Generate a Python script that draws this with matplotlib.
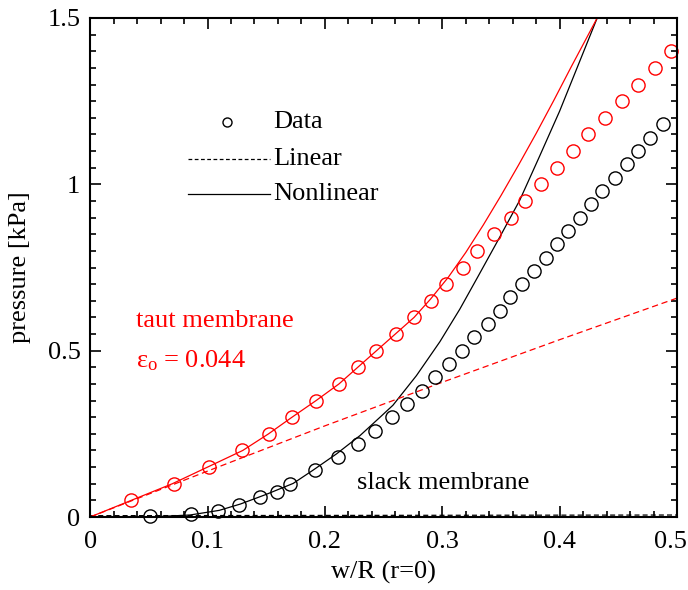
import numpy as np
import matplotlib
matplotlib.use("Agg")
import matplotlib.pyplot as plt
from matplotlib.ticker import MultipleLocator, FuncFormatter

plt.rcParams['font.family'] = ['Liberation Serif', 'DejaVu Serif']
plt.rcParams['mathtext.fontset'] = 'custom'
plt.rcParams['mathtext.rm'] = 'Liberation Serif'
plt.rcParams['mathtext.it'] = 'Liberation Serif'

# slack membrane data (black circles)
slack_x = [0.051, 0.086, 0.109, 0.127, 0.145, 0.159, 0.170, 0.192, 0.2115, 0.228,
           0.243, 0.257, 0.270, 0.2825, 0.294, 0.306, 0.317, 0.327, 0.339, 0.349,
           0.358, 0.368, 0.378, 0.388, 0.3975, 0.407, 0.417, 0.427, 0.436, 0.447,
           0.457, 0.467, 0.477, 0.488]
slack_p = [0.003, 0.009, 0.018, 0.036, 0.06, 0.075, 0.10, 0.14, 0.18, 0.22,
           0.26, 0.30, 0.34, 0.38, 0.42, 0.46, 0.50, 0.54, 0.58, 0.62,
           0.66, 0.70, 0.74, 0.78, 0.82, 0.86, 0.90, 0.94, 0.98, 1.02,
           1.06, 1.10, 1.14, 1.18]

# taut membrane data (red circles)
taut_x = [0.035, 0.0716, 0.101, 0.129, 0.152, 0.172, 0.1925, 0.212, 0.228, 0.2436,
          0.2606, 0.276, 0.290, 0.303, 0.318, 0.330, 0.344, 0.359, 0.3705, 0.384,
          0.398, 0.411, 0.424, 0.4387, 0.453, 0.4668, 0.481, 0.4949]
taut_p = [0.05, 0.10, 0.15, 0.20, 0.25, 0.30, 0.35, 0.40, 0.45, 0.50,
          0.55, 0.60, 0.65, 0.70, 0.75, 0.80, 0.85, 0.90, 0.95, 1.00,
          1.05, 1.10, 1.15, 1.20, 1.25, 1.30, 1.35, 1.40]

# model curves
taut_nl_x = [0, 0.035, 0.07, 0.1, 0.13, 0.152, 0.172, 0.1925, 0.212, 0.228, 0.244,
             0.26, 0.276, 0.29, 0.305, 0.32, 0.335, 0.35, 0.365, 0.38, 0.395, 0.41, 0.432]
taut_nl_p = [0, 0.05, 0.10, 0.15, 0.20, 0.25, 0.30, 0.35, 0.40, 0.45, 0.50,
             0.55, 0.60, 0.655, 0.72, 0.795, 0.878, 0.966, 1.058, 1.153, 1.252, 1.354, 1.5]

taut_lin_x = [0, 0.1, 0.2, 0.3, 0.4, 0.5]
taut_lin_p = [0, 0.138, 0.274, 0.405, 0.533, 0.658]

slack_nl_x = [0, 0.05, 0.085, 0.11, 0.128, 0.15, 0.173, 0.19, 0.21, 0.23, 0.247,
              0.258, 0.278, 0.298, 0.315, 0.33, 0.348, 0.366, 0.383, 0.40, 0.416, 0.432]
slack_nl_p = [0, 0.0, 0.006, 0.02, 0.039, 0.068, 0.101, 0.141, 0.19, 0.245, 0.3,
              0.336, 0.425, 0.527, 0.625, 0.72, 0.835, 0.952, 1.085, 1.22, 1.36, 1.5]

slack_lin_x = [0, 0.5]
slack_lin_p = [0.004, 0.006]

xticks = [0, 0.1, 0.2, 0.3, 0.4, 0.5]
xtick_labels = ['0', '0.1', '0.2', '0.3', '0.4', '']

fig = plt.figure(figsize=(6.88, 5.90), dpi=100)
ax = fig.add_axes([0.131, 0.1237, 0.853, 0.8458])

ax.plot(slack_lin_x, slack_lin_p, color='black', lw=0.9, dashes=(4, 2.5))
ax.plot(slack_nl_x, slack_nl_p, color='black', lw=0.9)
ax.plot(taut_lin_x, taut_lin_p, color='red', lw=0.9, dashes=(5, 3))
ax.plot(taut_nl_x, taut_nl_p, color='red', lw=0.9)
ax.plot(slack_x, slack_p, 'o', mfc='none', mec='black', ms=9.5, mew=1.0, clip_on=False)
ax.plot(taut_x, taut_p, 'o', mfc='none', mec='red', ms=9.5, mew=1.0, clip_on=False)

ax.set_xlim(0, 0.5)
ax.set_ylim(0, 1.5)

fmt = FuncFormatter(lambda v, p: ('%g' % round(v, 3)))
ax.set_xticks(xticks)
ax.set_xticklabels(xtick_labels)
ax.xaxis.set_minor_locator(MultipleLocator(0.02))
ax.yaxis.set_major_locator(MultipleLocator(0.5))
ax.yaxis.set_minor_locator(MultipleLocator(0.05))
ax.yaxis.set_major_formatter(fmt)
ax.tick_params(which='both', direction='in', top=True, right=True, labelsize=19, width=1.2)
ax.tick_params(which='major', length=8)
ax.tick_params(axis='x', which='major', pad=10)
ax.tick_params(axis='y', which='major', pad=7)
ax.tick_params(which='minor', length=4)
for s in ax.spines.values():
    s.set_linewidth(1.5)

# last x tick label, pulled a little left so it stays inside the figure
ax.annotate('0.5', xy=(0.5, 0), xycoords=('data', 'axes fraction'),
            xytext=(-5, -10), textcoords='offset points',
            ha='center', va='top', fontsize=19)

ax.set_xlabel('w/R (r=0)', fontsize=19, labelpad=6)
ax.set_ylabel('pressure [kPa]', fontsize=19, labelpad=12)

# legend drawn by hand as in the original
ax.plot([0.117], [1.188], 'o', mfc='none', mec='black', ms=6.5, mew=1.0)
ax.text(0.156, 1.188, 'Data', fontsize=19, va='center')
ax.plot([0.083, 0.153], [1.076, 1.076], color='black', lw=0.9, dashes=(3, 2))
ax.text(0.156, 1.076, 'Linear', fontsize=19, va='center')
ax.plot([0.083, 0.153], [0.97, 0.97], color='black', lw=0.9)
ax.text(0.156, 0.97, 'Nonlinear', fontsize=19, va='center')

ax.text(0.039, 0.59, 'taut membrane', color='red', fontsize=19, va='center')
ax.text(0.039, 0.47, r'$\varepsilon_{\rm o}$ = 0.044', color='red', fontsize=19, va='center')
ax.text(0.2274, 0.102, 'slack membrane', color='black', fontsize=19, va='center')

fig.savefig('out.png', dpi=100)
